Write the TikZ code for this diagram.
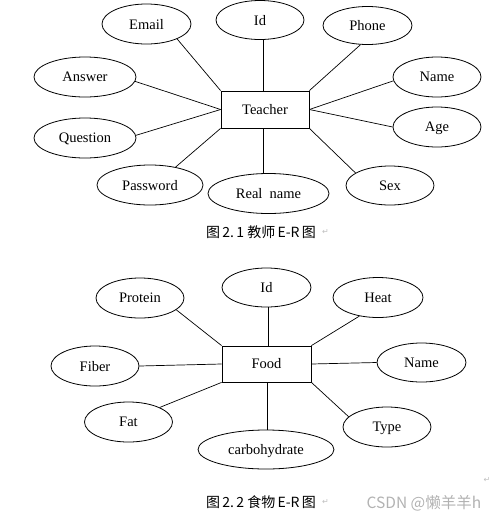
\documentclass[tikz,border=0pt]{standalone}
\usepackage{fontspec}
\setmainfont{Liberation Serif}
\newfontfamily\cjk{Noto Sans CJK SC}
\newfontfamily\symb{DejaVu Sans}
\usetikzlibrary{positioning, shapes}

\tikzset{
	entity/.style={draw, rectangle, minimum width=88pt, minimum height=37pt, inner sep=0pt, line width=0.8pt},
	attr/.style={draw, ellipse, minimum width=88pt, minimum height=40pt, inner sep=0pt, line width=0.8pt, text depth=-1.5pt},
	link/.style={line width=0.7pt},
	caption/.style={font=\cjk\fontsize{14}{14}\selectfont},
	retmark/.style={text=gray!50, font=\symb\fontsize{8}{8}\selectfont}
}

\begin{document}
\begin{tikzpicture}[x=1pt, y=-1pt, font=\fontsize{14.5}{16}\selectfont]
		\useasboundingbox (0,0) rectangle (497,520);
		% Teacher
		\node[entity] (teacher) at (265,109.5) {Teacher};
		\node[attr, minimum height=39pt] (tid) at (260,20) {Id};
		\node[attr, minimum width=89pt] (email) at (146.5,24) {Email};
		\node[attr, minimum width=89pt, minimum height=38pt] (phone) at (367.5,25.5) {Phone};
		\node[attr, minimum width=102pt] (answer) at (85,77) {Answer};
		\node[attr] (tname) at (437,77) {Name};
		\node[attr, minimum width=102pt] (question) at (85,138) {Question};
		\node[attr] (age) at (437,127) {Age};
		\node[attr, minimum width=106pt] (password) at (150,185) {Password};
		\node[attr, minimum width=121pt] (realname) at (268.5,193.5) {Real\ \ name};
		\node[attr, minimum height=39pt] (sex) at (390,185.5) {Sex};
		
		\draw[link] (email.-26) -- (teacher.north west);
		\draw[link] (answer.-5) -- (teacher.west);
		\draw[link] (question.3) -- (teacher.west);
		\draw[link] (password.35) -- (teacher.south west);
		\draw[link] (tid.-80) -- (tid.-80 |- teacher.north);
		\draw[link] (realname.105) -- (realname.105 |- teacher.south);
		\draw[link] (phone.250) -- (teacher.north east);
		\draw[link] (tname.185) -- (teacher.east);
		\draw[link] (age.west) -- (teacher.east);
		\draw[link] (sex.160) -- (teacher.south east);
		
		\node[caption] (cap1) at (261,232) {图\,2.\,1 教师\,E-R\,图};
		\node[retmark, right=-1pt of cap1] (ret1) {↵};
		
		% Food
		\node[entity, minimum width=89pt, minimum height=36pt] (food) at (266.5,364) {Food};
		\node[attr, minimum width=89pt, minimum height=39pt] (fid) at (266.5,287.5) {Id};
		\node[attr] (protein) at (140,298) {Protein};
		\node[attr, minimum width=90pt] (heat) at (378,297.5) {Heat};
		\node[attr] (fiber) at (95,366) {Fiber};
		\node[attr, minimum width=89pt, minimum height=39pt] (fname) at (421.5,362.5) {Name};
		\node[attr] (fat) at (128.5,422) {Fat};
		\node[attr] (type) at (387,427) {Type};
		\node[attr, minimum width=136pt, minimum height=39pt] (carbo) at (266,449.5) {carbohydrate};
		
		\draw[link] (protein.-18) -- (food.north west);
		\draw[link] (fiber.east) -- (food.west);
		\draw[link] (fat.25) -- (food.south west);
		\draw[link] (fid.-85) -- (fid.-85 |- food.north);
		\draw[link] (carbo.85) -- (carbo.85 |- food.south);
		\draw[link] (heat.225) -- (food.north east);
		\draw[link] (fname.west) -- (food.east);
		\draw[link] (type.165) -- (food.south east);
		
		\node[caption] (cap2) at (261,502) {图\,2.\,2 食物\,E-R\,图};
		\node[retmark, right=-1pt of cap2] (ret2) {↵};
		\node[retmark] (ret3) at (487,480) {↵};
		\node[text=gray!60, font=\cjk\fontsize{15.5}{15.5}\selectfont] (wm) at (424,503) {CSDN @懒羊羊h};
	\end{tikzpicture}
\end{document}
